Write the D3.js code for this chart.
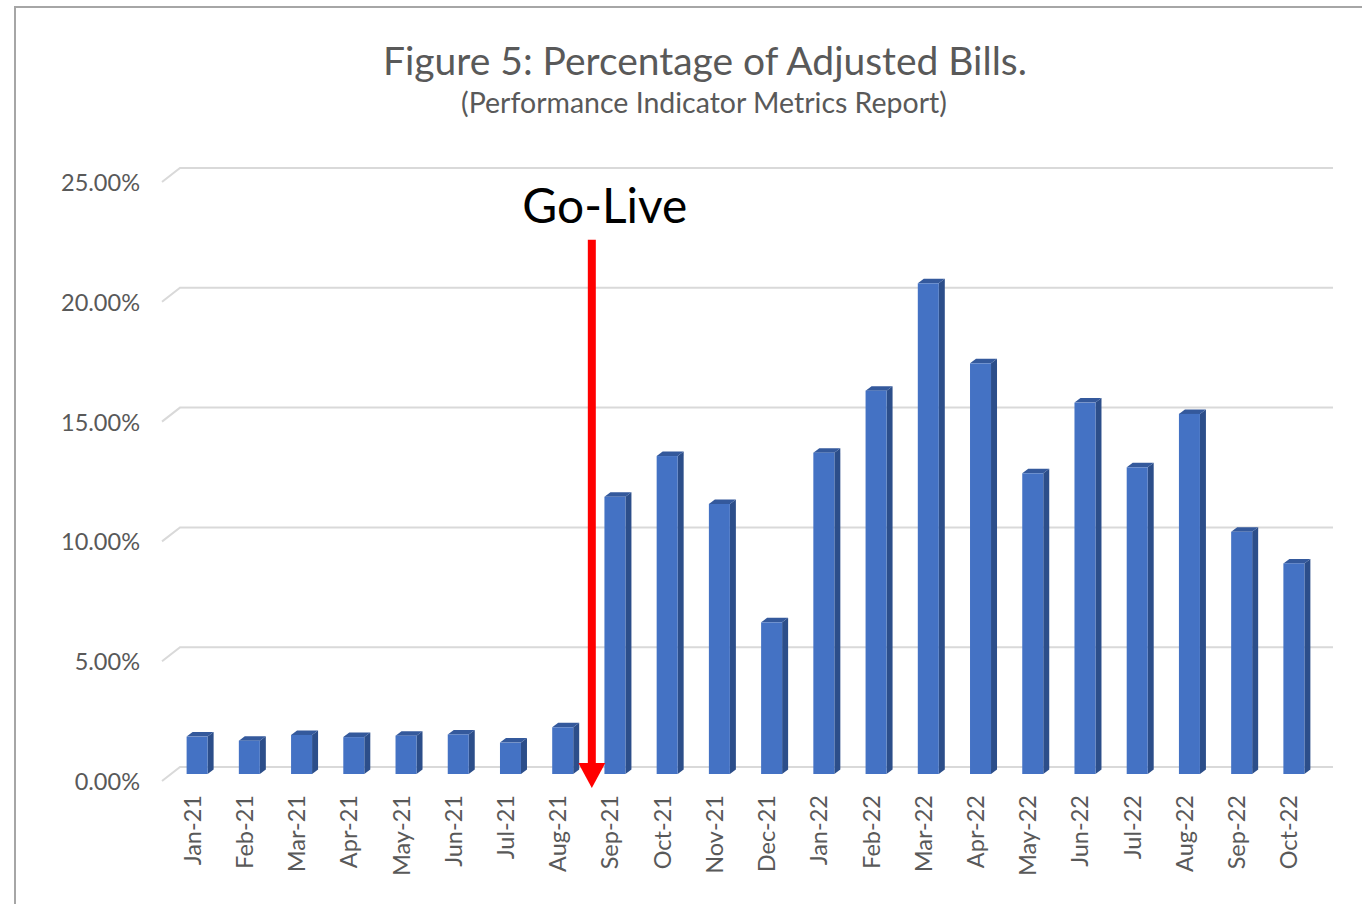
<!DOCTYPE html>
<html>
<head>
<meta charset="utf-8">
<script src="https://cdn.jsdelivr.net/npm/d3@7"></script>
<style>
  html, body { margin: 0; padding: 0; background: #fff; overflow: hidden; }
  svg { display: block; }
</style>
</head>
<body>
<svg id="chart" width="1362" height="904"></svg>
<script>
// Monthly share of bills that were adjusted (percent)
const months = ["Jan-21", "Feb-21", "Mar-21", "Apr-21", "May-21", "Jun-21", "Jul-21", "Aug-21",
  "Sep-21", "Oct-21", "Nov-21", "Dec-21", "Jan-22", "Feb-22", "Mar-22", "Apr-22",
  "May-22", "Jun-22", "Jul-22", "Aug-22", "Sep-22", "Oct-22"];
const adjustedPct = [1.56, 1.39, 1.63, 1.54, 1.60, 1.65, 1.31, 1.95,
  11.57, 13.27, 11.27, 6.33, 13.41, 16.00, 20.48, 17.14,
  12.55, 15.50, 12.80, 15.03, 10.11, 8.79];
const yTicks = [0, 5, 10, 15, 20, 25];

const titleText = "Figure 5: Percentage of Adjusted Bills.";
const subtitleText = "(Performance Indicator Metrics Report)";
const goLiveLabel = "Go-Live";
const goLiveMonth = "Sep-21";
const goLiveArrowTop = 22.3;   // percent level where the arrow starts

const FONT = "Lato, 'Open Sans', 'Liberation Sans', sans-serif";
const GREY_TEXT = "#595959";

const svg = d3.select("#chart");

// Chart frame
svg.append("line").attr("x1", 14).attr("x2", 1362).attr("y1", 7).attr("y2", 7)
  .attr("stroke", "#a6a6a6").attr("stroke-width", 2);
svg.append("line").attr("x1", 15).attr("x2", 15).attr("y1", 7).attr("y2", 904)
  .attr("stroke", "#a6a6a6").attr("stroke-width", 2);

// Scales at the mid depth of the 3-D box
const x = d3.scaleBand().domain(months).range([171, 1320]).paddingInner(0).paddingOuter(0);
const y = d3.scaleLinear().domain([0, 25]).range([774, 175]);

// Depth offsets: back wall / front edge of the floor, and bar depth
const depth = { dx: 9, dy: -7 };
const barHalf = 10.5;
const barDepth = { dx: 6, dy: -4.5 };

function fitWidth(sel, target) {
  const w = sel.node().getComputedTextLength();
  const fs = parseFloat(sel.attr("font-size"));
  sel.attr("font-size", fs * target / w);
  return fs * target / w;
}

// Gridlines on the back wall, with a short diagonal on the side wall
const grid = svg.append("g").attr("class", "grid");
const [x0, x1] = x.range();
yTicks.forEach(t => {
  const yy = y(t);
  grid.append("path")
    .attr("d", `M${x0 - depth.dx},${yy - depth.dy}L${x0 + depth.dx},${yy + depth.dy}L${x1 + depth.dx + 4},${yy + depth.dy}`)
    .attr("fill", "none").attr("stroke", "#d9d9d9").attr("stroke-width", 2);
});

// Y-axis labels
const probe = svg.append("text").attr("font-family", FONT).attr("font-size", 24).text("25.00%");
const labelSize = fitWidth(probe, 79);
probe.remove();

const fmt = d => d3.format(".2f")(d) + "%";
svg.append("g").selectAll("text").data(yTicks).join("text")
  .attr("x", 140)
  .attr("y", d => y(d) - depth.dy)
  .attr("text-anchor", "end")
  .attr("dominant-baseline", "central")
  .attr("font-family", FONT).attr("font-size", labelSize)
  .attr("fill", GREY_TEXT)
  .text(fmt);

// 3-D columns
const bars = svg.append("g").selectAll("g").data(months.map((m, i) => ({ m, v: adjustedPct[i] }))).join("g");
const cx = d => x(d.m) + x.bandwidth() / 2;
bars.append("path") // side face
  .attr("d", d => {
    const l = cx(d) + barHalf, t = y(d.v), b = y(0);
    return `M${l},${t}L${l + barDepth.dx},${t + barDepth.dy}L${l + barDepth.dx},${b + barDepth.dy}L${l},${b}Z`;
  })
  .attr("fill", "#2c4e8a");
bars.append("path") // top face
  .attr("d", d => {
    const l = cx(d) - barHalf, r = cx(d) + barHalf, t = y(d.v);
    return `M${l},${t}L${l + barDepth.dx},${t + barDepth.dy}L${r + barDepth.dx},${t + barDepth.dy}L${r},${t}Z`;
  })
  .attr("fill", "#34599c");
bars.append("rect") // front face
  .attr("x", d => cx(d) - barHalf)
  .attr("y", d => y(d.v))
  .attr("width", barHalf * 2)
  .attr("height", d => y(0) - y(d.v))
  .attr("fill", "#4472c4");

// X-axis labels
svg.append("g").selectAll("text").data(months).join("text")
  .attr("transform", d => `translate(${x(d) + x.bandwidth() / 2 - 5.5},795) rotate(-90)`)
  .attr("text-anchor", "end")
  .attr("dominant-baseline", "central")
  .attr("font-family", FONT).attr("font-size", labelSize)
  .attr("fill", GREY_TEXT)
  .text(d => d);

// Go-Live marker
const arrowX = x(goLiveMonth) + 3;
const arrowTop = y(goLiveArrowTop);
const arrowTip = y(0) + 14;
const headH = 25, headW = 27;
svg.append("line")
  .attr("x1", arrowX).attr("x2", arrowX)
  .attr("y1", arrowTop).attr("y2", arrowTip - headH + 2)
  .attr("stroke", "#ff0000").attr("stroke-width", 8);
svg.append("path")
  .attr("d", `M${arrowX - headW / 2},${arrowTip - headH}L${arrowX + headW / 2},${arrowTip - headH}L${arrowX},${arrowTip}Z`)
  .attr("fill", "#ff0000");

const gl = svg.append("text")
  .attr("x", arrowX + 13).attr("y", 223)
  .attr("text-anchor", "middle")
  .attr("font-family", FONT).attr("font-size", 40)
  .attr("fill", "#000")
  .text(goLiveLabel);
fitWidth(gl, 165);

// Titles
const title = svg.append("text")
  .attr("x", 705).attr("y", 75)
  .attr("text-anchor", "middle")
  .attr("font-family", FONT).attr("font-size", 36)
  .attr("fill", GREY_TEXT)
  .text(titleText);
fitWidth(title, 644);

const sub = svg.append("text")
  .attr("x", 704).attr("y", 113)
  .attr("text-anchor", "middle")
  .attr("font-family", FONT).attr("font-size", 24)
  .attr("fill", GREY_TEXT)
  .text(subtitleText);
fitWidth(sub, 486);
</script>
</body>
</html>
